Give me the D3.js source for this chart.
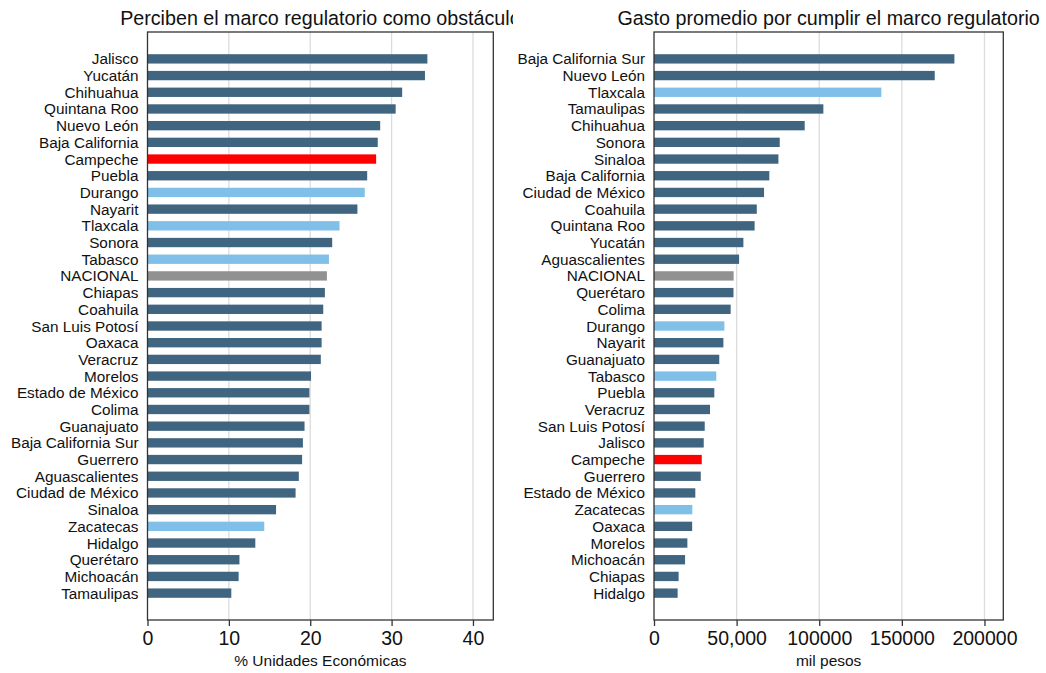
<!DOCTYPE html>
<html>
<head>
<meta charset="utf-8">
<script src="https://cdn.jsdelivr.net/npm/d3@7"></script>
<style>
  html, body { margin: 0; padding: 0; background: #fff; }
  svg { display: block; font-family: "Liberation Sans", Arial, Helvetica, sans-serif; }
</style>
</head>
<body>
<svg id="chart" width="1046" height="673"></svg>
<script>
// ---- Left panel data ----
const leftTitle = "Perciben el marco regulatorio como obstáculo";
const leftAxisTitle = "% Unidades Económicas";
const leftStates = ["Jalisco","Yucatán","Chihuahua","Quintana Roo","Nuevo León","Baja California","Campeche","Puebla","Durango","Nayarit","Tlaxcala","Sonora","Tabasco","NACIONAL","Chiapas","Coahuila","San Luis Potosí","Oaxaca","Veracruz","Morelos","Estado de México","Colima","Guanajuato","Baja California Sur","Guerrero","Aguascalientes","Ciudad de México","Sinaloa","Zacatecas","Hidalgo","Querétaro","Michoacán","Tamaulipas"];
const leftValues = [34.4,34.1,31.3,30.5,28.6,28.3,28.1,27.0,26.7,25.8,23.6,22.7,22.3,22.05,21.8,21.6,21.4,21.4,21.3,20.1,19.9,19.9,19.3,19.1,19.0,18.6,18.2,15.8,14.35,13.25,11.3,11.2,10.3];
const leftTicks = [0,10,20,30,40];
const leftTickLabels = ["0","10","20","30","40"];

// ---- Right panel data ----
const rightTitle = "Gasto promedio por cumplir el marco regulatorio";
const rightAxisTitle = "mil pesos";
const rightStates = ["Baja California Sur","Nuevo León","Tlaxcala","Tamaulipas","Chihuahua","Sonora","Sinaloa","Baja California","Ciudad de México","Coahuila","Quintana Roo","Yucatán","Aguascalientes","NACIONAL","Querétaro","Colima","Durango","Nayarit","Guanajuato","Tabasco","Puebla","Veracruz","San Luis Potosí","Jalisco","Campeche","Guerrero","Estado de México","Zacatecas","Oaxaca","Morelos","Michoacán","Chiapas","Hidalgo"];
const rightValues = [181800,169900,137600,102500,91200,76100,75300,69800,66600,62200,60900,54100,51500,48200,48100,46400,42600,42000,39500,37700,36500,33900,30700,30100,28900,28300,25000,23200,23100,20200,18800,14900,14300];
const rightTicks = [0,50000,100000,150000,200000];
const rightTickLabels = ["0","50,000","100000","150000","200000"];

// ---- Highlight groups ----
const redStates = ["Campeche"];
const lightStates = ["Durango","Tlaxcala","Tabasco","Zacatecas"];
const grayStates = ["NACIONAL"];

const colDark = "#3f6580", colLight = "#80bfe8", colRed = "#ff0000", colGray = "#919191";
function colorFor(s) {
  if (redStates.includes(s)) return colRed;
  if (lightStates.includes(s)) return colLight;
  if (grayStates.includes(s)) return colGray;
  return colDark;
}

const svg = d3.select("#chart");

function panel(opts) {
  const { x0, x1, domainMax, states, values, ticks, tickLabels, title, axisTitle, clipRight } = opts;
  const top = 32, bottom = 620;
  const clipId = "clip" + Math.round(x0);
  const defs = svg.append("defs");
  defs.append("clipPath").attr("id", clipId)
    .append("rect").attr("x", 0).attr("y", 0).attr("width", clipRight).attr("height", 673);
  const g = svg.append("g").attr("clip-path", `url(#${clipId})`);

  const x = d3.scaleLinear().domain([0, domainMax]).range([x0, x1]);
  const y = d3.scaleBand().domain(states).range([top, bottom]).paddingInner(0.44).paddingOuter(1.33);

  // grid
  g.append("g").selectAll("line").data(ticks.filter(t => t > 0)).join("line")
    .attr("x1", d => x(d)).attr("x2", d => x(d))
    .attr("y1", top).attr("y2", bottom)
    .attr("stroke", "#dcdcdc").attr("stroke-width", 1.3);

  // bars
  g.append("g").selectAll("rect").data(states).join("rect")
    .attr("x", x(0))
    .attr("y", d => y(d))
    .attr("width", (d, i) => x(values[i]) - x(0))
    .attr("height", y.bandwidth())
    .attr("fill", d => colorFor(d));

  // frame
  g.append("rect").attr("x", x0).attr("y", top).attr("width", x1 - x0).attr("height", bottom - top)
    .attr("fill", "none").attr("stroke", "#333").attr("stroke-width", 1.3);

  // category labels
  g.append("g").selectAll("text").data(states).join("text")
    .attr("x", x0 - 9)
    .attr("y", d => y(d) + y.bandwidth() / 2)
    .attr("dy", "0.36em")
    .attr("text-anchor", "end")
    .attr("font-size", 15.3)
    .attr("fill", "#111")
    .text(d => d);

  // x axis
  const axis = d3.axisBottom(x).tickValues(ticks).tickSize(6).tickPadding(5)
    .tickFormat((d, i) => tickLabels[i]);
  const ax = g.append("g").attr("transform", `translate(0,${bottom})`).call(axis);
  ax.select(".domain").remove();
  ax.selectAll(".tick line").attr("stroke", "#333").attr("stroke-width", 1.3);
  ax.selectAll(".tick text").attr("font-size", 19.5).attr("fill", "#111")
    .attr("font-family", "'Liberation Sans', Arial, sans-serif");

  // axis title
  g.append("text").attr("x", (x0 + x1) / 2).attr("y", 666)
    .attr("text-anchor", "middle").attr("font-size", 15.5).attr("fill", "#111")
    .text(axisTitle);

  // title
  g.append("text").attr("x", (x0 + x1) / 2).attr("y", 25)
    .attr("text-anchor", "middle").attr("font-size", 19.7).attr("fill", "#111")
    .text(title);
}

panel({ x0: 147.5, x1: 493.3, domainMax: 42.5, states: leftStates, values: leftValues,
  ticks: leftTicks, tickLabels: leftTickLabels, title: leftTitle, axisTitle: leftAxisTitle, clipRight: 513 });
panel({ x0: 654, x1: 1003.3, domainMax: 211400, states: rightStates, values: rightValues,
  ticks: rightTicks, tickLabels: rightTickLabels, title: rightTitle, axisTitle: rightAxisTitle, clipRight: 1046 });
</script>
</body>
</html>
